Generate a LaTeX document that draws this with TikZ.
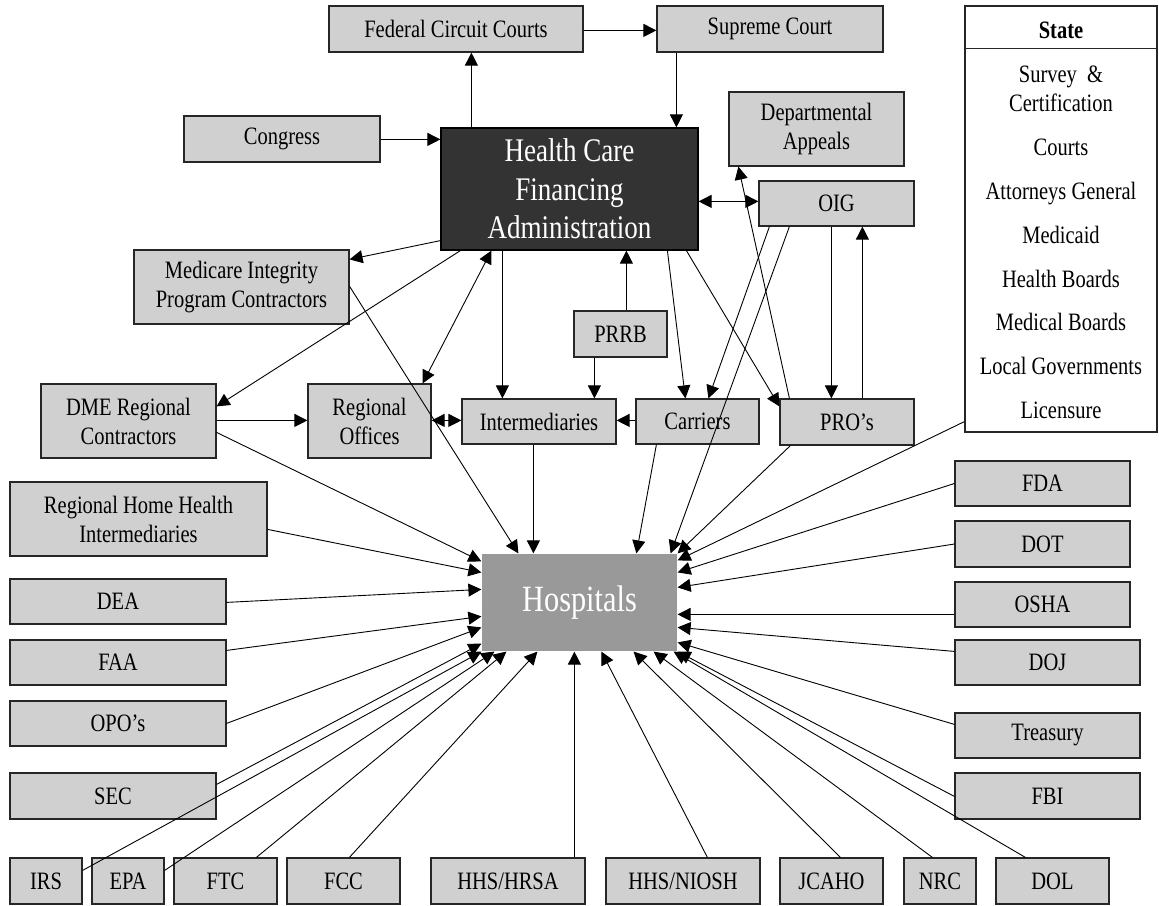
\documentclass[tikz,border=0pt]{standalone}
\usepackage{fontspec}
\setmainfont{Liberation Serif}[FakeStretch=0.82]
\usetikzlibrary{arrows.meta,calc}
\definecolor{boxgray}{HTML}{D0D0D0}
\definecolor{hcfagray}{HTML}{333333}
\definecolor{hospgray}{HTML}{999999}
\tikzset{
  box/.style={draw=black!85, line width=1.2pt, fill=boxgray, inner sep=0pt, align=center,
              font=\fontsize{25}{29}\selectfont},
  >={Triangle[length=13pt,width=13pt]},
  conn/.style={line width=0.9pt, ->},
  conn2/.style={line width=0.9pt, <->},
  stitem/.style={anchor=base, font=\fontsize{25}{29}\selectfont}
}
\newcommand\mkbox[6]{\node[box,minimum width={(#4)-(#2)},minimum height={(#5)-(#3)}] (#1) at ({((#2)+(#4))/2},{((#3)+(#5))/2}) {#6};}
\begin{document}
\begin{tikzpicture}[x=1pt,y=-1pt]
\useasboundingbox (0,0) rectangle (1159,905);
% nodes
\mkbox{fcourt}{329}{6}{583}{52}{Federal Circuit Courts}
\mkbox{supreme}{657}{6}{883}{52}{Supreme Court}
\mkbox{congress}{184}{116}{380}{162}{Congress}
\node[box, fill=hcfagray, draw=black, text=white, font=\fontsize{33}{38.5}\selectfont,
      minimum width=257, minimum height=122] (hcfa) at (569.5,189) {Health Care\\Financing\\Administration};
\mkbox{dept}{729}{92}{904}{166}{Departmental\\Appeals}
\mkbox{oig}{759}{181}{914}{226}{OIG}
\mkbox{mipc}{134}{250}{349}{324}{Medicare Integrity\\Program Contractors}
\mkbox{prrb}{574}{311}{667}{357}{PRRB}
\mkbox{dme}{41}{384}{216}{458}{DME Regional\\Contractors}
\mkbox{ro}{308}{384}{431}{458}{Regional\\Offices}
\mkbox{inter}{462}{399}{616}{444}{Intermediaries}
\mkbox{carriers}{636}{399}{759}{444}{Carriers}
\mkbox{pros}{780}{399}{914}{445}{PRO’s}
\mkbox{rhhi}{10}{482}{267}{556}{Regional Home Health\\Intermediaries}
\mkbox{dea}{10}{579}{226}{624}{DEA}
\mkbox{faa}{10}{640}{226}{685}{FAA}
\mkbox{opo}{10}{701}{226}{746}{OPO’s}
\mkbox{sec}{10}{773}{216}{819}{SEC}
\mkbox{irs}{10}{858}{82}{904}{IRS}
\mkbox{epa}{92}{858}{164}{904}{EPA}
\mkbox{ftc}{174}{858}{277}{904}{FTC}
\mkbox{fccb}{287}{858}{400}{904}{FCC}
\mkbox{hrsa}{431}{858}{585}{904}{HHS/HRSA}
\mkbox{niosh}{606}{858}{760}{904}{HHS/NIOSH}
\mkbox{jcaho}{780}{858}{883}{904}{JCAHO}
\mkbox{nrc}{904}{858}{976}{904}{NRC}
\mkbox{dol}{996}{858}{1109}{904}{DOL}
\mkbox{fda}{955}{461}{1130}{506}{FDA}
\mkbox{dot}{955}{521}{1130}{567}{DOT}
\mkbox{osha}{955}{582}{1130}{627}{OSHA}
\mkbox{doj}{955}{640}{1140}{685}{DOJ}
\mkbox{treas}{955}{713}{1140}{758}{Treasury}
\mkbox{fbi}{955}{773}{1140}{819}{FBI}
\node[box, fill=hospgray, draw=none, text=white, font=\fontsize{37}{40}\selectfont,
      minimum width=195, minimum height=97] (hosp) at (579.5,602.5) {\raisebox{-4pt}{Hospitals}};
% State panel
\node[box, fill=white, minimum width=192, minimum height=426] (state) at (1061,219) {};
\draw[line width=1.2pt, draw=black!85] ($(state.north west)+(0,43)$) -- ($(state.north east)+(0,43)$);
\node[stitem, font=\fontsize{25}{29}\selectfont\bfseries] (st0) at (1061,38) {State};
\node[stitem] (st1) at (1061,82) {Survey~~\&};
\node[stitem] (st2) at (1061,111) {Certification};
\node[stitem] (st3) at (1061,155) {Courts};
\node[stitem] (st4) at (1061,199) {Attorneys General};
\node[stitem] (st5) at (1061,243) {Medicaid};
\node[stitem] (st6) at (1061,287) {Health Boards};
\node[stitem] (st7) at (1061,330) {Medical Boards};
\node[stitem] (st8) at (1061,374) {Local Governments};
\node[stitem] (st9) at (1061,418) {Licensure};
% connectors, upper part
\draw[conn] ($(hcfa.north west)+(31,0)$) -- ($(fcourt.south west)+(143,0)$);
\draw[conn] ($(fcourt.north east)+(0,25)$) -- ($(supreme.north west)+(0,25)$);
\draw[conn] ($(supreme.south west)+(20,0)$) -- ($(hcfa.north west)+(236,0)$);
\draw[conn] ($(congress.north east)+(0,24)$) -- ($(hcfa.north west)+(0,12)$);
\draw[conn2] ($(hcfa.north east)+(0,74)$) -- ($(oig.north west)+(0,21)$);
\draw[conn] ($(hcfa.south west)+(0,-10)$) -- ($(mipc.north east)+(0,10)$);
\draw[conn] ($(hcfa.south west)+(20,0)$) -- ($(dme.north east)+(0,23)$);
\draw[conn2] ($(hcfa.south west)+(51,0)$) -- ($(ro.north east)+(-9,0)$);
\draw[conn] ($(hcfa.south west)+(62,0)$) -- ($(inter.north west)+(41,0)$);
\draw[conn] ($(prrb.north west)+(53,0)$) -- ($(hcfa.south west)+(186,0)$);
\draw[conn] ($(prrb.south west)+(21,0)$) -- ($(inter.north west)+(133,0)$);
\draw[conn] ($(hcfa.south west)+(227,0)$) -- ($(carriers.north west)+(50,0)$);
\draw[conn] ($(hcfa.south west)+(246,0)$) -- ($(pros.north west)+(0,8)$);
\draw[conn] ($(oig.south west)+(11,0)$) -- ($(carriers.north west)+(73,0)$);
\draw[conn] ($(oig.south west)+(31,0)$) -- ($(hosp.north east)+(-7,0)$);
\draw[conn] ($(oig.south west)+(73,0)$) -- ($(pros.north west)+(52,0)$);
\draw[conn] ($(pros.north west)+(83,0)$) -- ($(oig.south west)+(104,0)$);
\draw[conn] ($(pros.north west)+(10,0)$) -- ($(dept.south west)+(10,0)$);
\draw[conn] ($(carriers.north west)+(0,22)$) -- ($(inter.north east)+(0,22)$);
\draw[conn] ($(dme.north east)+(0,37)$) -- ($(ro.north west)+(0,37)$);
\draw[conn2] ($(ro.north east)+(0,37)$) -- ($(inter.north west)+(0,22)$);
% connectors into Hospitals
\draw[conn] ($(inter.south west)+(72,0)$) -- ($(hosp.north west)+(52,0)$);
\draw[conn] ($(mipc.north east)+(0,37)$) -- ($(hosp.north west)+(37,0)$);
\draw[conn] ($(dme.north east)+(0,49)$) -- ($(hosp.north west)+(0,8)$);
\draw[conn] ($(carriers.south west)+(21,0)$) -- ($(hosp.north west)+(155,0)$);
\draw[conn] ($(pros.south west)+(11,0)$) -- (hosp.north east);
\draw[conn] ($(state.south west)+(0,-11)$) -- ($(hosp.north east)+(0,7)$);
\draw[conn] (fda.west) -- ($(hosp.north east)+(0,19)$);
\draw[conn] (dot.west) -- ($(hosp.north east)+(0,34)$);
\draw[conn] ($(osha.north west)+(0,33)$) -- ($(hosp.north east)+(0,61)$);
\draw[conn] ($(doj.north west)+(0,12)$) -- ($(hosp.north east)+(0,74)$);
\draw[conn] ($(treas.north west)+(0,12)$) -- ($(hosp.north east)+(0,89)$);
\draw[conn] ($(fbi.north west)+(0,24)$) -- (hosp.south east);
\draw[conn] ($(dol.north west)+(30,0)$) -- ($(hosp.south east)+(-4,0)$);
\draw[conn] ($(nrc.north west)+(29,0)$) -- ($(hosp.south east)+(-24,0)$);
\draw[conn] ($(jcaho.north west)+(61,0)$) -- ($(hosp.south east)+(-44,0)$);
\draw[conn] ($(niosh.north west)+(102,0)$) -- ($(hosp.south west)+(120,0)$);
\draw[conn] ($(hrsa.north west)+(144,0)$) -- ($(hosp.south west)+(93,0)$);
\draw[conn] ($(fccb.north west)+(63,0)$) -- ($(hosp.south west)+(56,0)$);
\draw[conn] ($(ftc.north west)+(83,0)$) -- ($(hosp.south west)+(25,0)$);
\draw[conn] ($(epa.north east)+(0,13)$) -- ($(hosp.south west)+(13,0)$);
\draw[conn] ($(irs.north east)+(0,13)$) -- (hosp.south west);
\draw[conn] ($(sec.north east)+(0,12)$) -- ($(hosp.south west)+(0,-8)$);
\draw[conn] ($(opo.north east)+(0,23)$) -- ($(hosp.north west)+(0,74)$);
\draw[conn] ($(faa.north east)+(0,11)$) -- ($(hosp.north west)+(0,63)$);
\draw[conn] ($(dea.north east)+(0,24)$) -- ($(hosp.north west)+(0,36)$);
\draw[conn] ($(rhhi.north east)+(0,48)$) -- ($(hosp.north west)+(0,19)$);
\end{tikzpicture}
\end{document}
